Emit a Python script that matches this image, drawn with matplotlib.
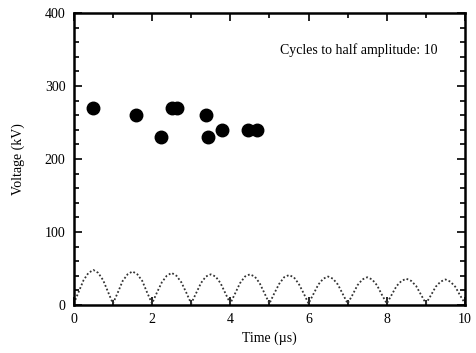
import matplotlib.pyplot as plt
import numpy as np

plt.rcParams['font.family'] = ['Liberation Serif', 'DejaVu Serif']

# measured points
pt_time = [0.49, 1.59, 2.22, 2.51, 2.64, 3.39, 3.43, 3.80, 4.44, 4.67]
pt_volt = [270, 260, 230, 270, 270, 260, 230, 240, 240, 240]

# ringing waveform, read every 0.125 us
wave_time = np.arange(0, 81) * 0.125
wave_volt = [2, 18, 34, 44, 48, 44, 34, 18,
             2, 17, 33, 42, 46, 42, 33, 17,
             2, 17, 31, 40, 44, 40, 31, 17,
             2, 16, 30, 39, 42, 39, 30, 16,
             2, 16, 30, 39, 42, 39, 30, 16,
             2, 16, 29, 38, 41, 38, 29, 16,
             2, 15, 28, 36, 39, 36, 28, 15,
             2, 14, 27, 35, 38, 35, 27, 14,
             2, 14, 26, 33, 36, 33, 26, 14,
             2, 13, 25, 32, 35, 32, 25, 13,
             2]

fig = plt.figure(figsize=(4.76, 3.53), dpi=100)
ax = fig.add_axes([0.155, 0.136, 0.822, 0.827])

ax.plot(wave_time, wave_volt, linestyle=(0, (1, 1.2)), color='#333333', lw=1.3)
ax.plot(pt_time, pt_volt, 'o', color='black', ms=9)

ax.set_xlim(0, 10)
ax.set_ylim(0, 400)
ax.set_xticks([0, 2, 4, 6, 8, 10])
ax.set_xticks(np.arange(1, 10, 2), minor=True)
ax.set_yticks([0, 100, 200, 300, 400])
ax.set_yticks(np.arange(0, 401, 20), minor=True)
ax.tick_params(which='both', direction='in', top=True, right=True, labelsize=10, width=1.2)
ax.tick_params(which='major', length=6, pad=6)
ax.tick_params(which='minor', length=3.5)
for s in ax.spines.values():
    s.set_linewidth(1.8)

ax.set_xlabel('Time (µs)', fontsize=10, labelpad=4)
ax.set_ylabel('Voltage (kV)', fontsize=10, labelpad=14)
ax.text(9.3, 349, 'Cycles to half amplitude: 10', ha='right', va='center', fontsize=10)

fig.savefig('out.png', dpi=100)
